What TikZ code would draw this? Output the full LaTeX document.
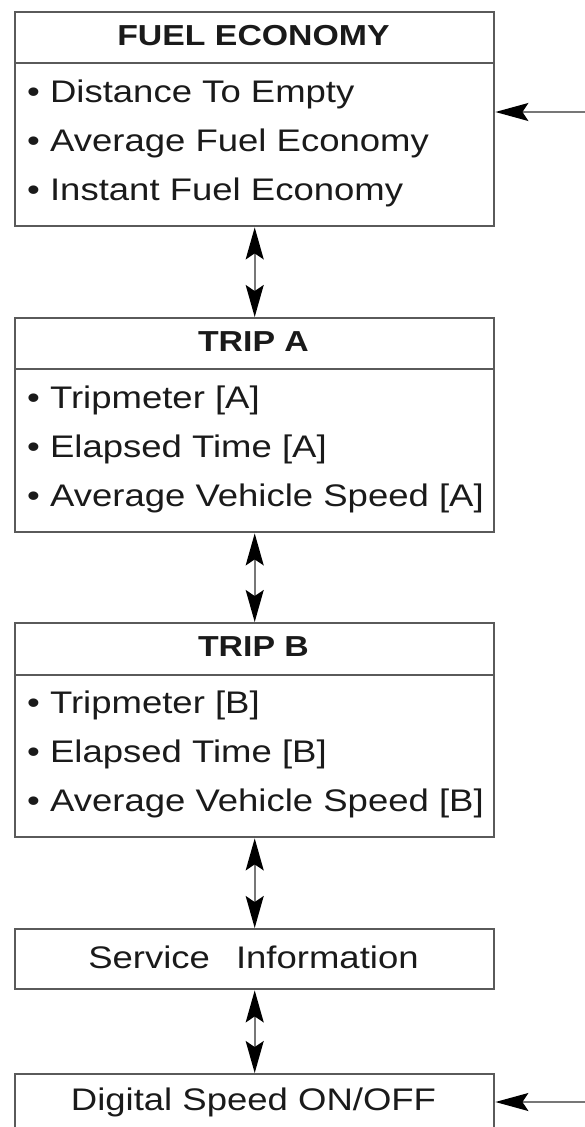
\documentclass[tikz,border=0pt]{standalone}
\usepackage{fontspec}
\setmainfont{Liberation Sans}[FakeStretch=1.17]
\usetikzlibrary{arrows.meta}
\definecolor{boxgray}{HTML}{5A5A5A}
\definecolor{textblack}{HTML}{1A1A1A}
\definecolor{shaftgray}{HTML}{777777}
\begin{document}
\begin{tikzpicture}[x=1pt,y=-1pt,
  box/.style={draw=boxgray, line width=2.4pt, inner sep=0pt, anchor=north west, minimum width=479pt},
  divider/.style={draw=boxgray, line width=2.2pt},
  txt/.style={anchor=base west, inner sep=0pt, text=textblack, font=\fontsize{31.2}{37}\selectfont},
  ctxt/.style={anchor=base, inner sep=0pt, text=textblack, font=\fontsize{31.2}{37}\selectfont},
  hdr/.style={anchor=base, inner sep=0pt, text=textblack, font=\fontsize{28.9}{35}\selectfont\bfseries},
  link/.style={draw=shaftgray, line width=1.6pt, {Stealth[length=32pt,width=18pt,inset=6pt,color=black]}-{Stealth[length=32pt,width=18pt,inset=6pt,color=black]}},
  inlink/.style={draw=shaftgray, line width=1.6pt, -{Stealth[length=33pt,width=18pt,inset=6pt,color=black]}},
]
\useasboundingbox (0,0) rectangle (585,1127);
\clip (0,0) rectangle (585,1127);

% FUEL ECONOMY
\node[box, minimum height=214pt] (fuel) at (14,11) {};
\draw[divider] (14,63) -- (493,63);
\node[hdr] (fuelh) at (253.5,45) {FUEL ECONOMY};
\node[txt] (fuel1) at (27,102.5) {• Distance To Empty};
\node[txt] (fuel2) at (27,151.5) {• Average Fuel Economy};
\node[txt] (fuel3) at (27,200.5) {• Instant Fuel Economy};

% TRIP A
\node[box, minimum height=214pt] (tripa) at (14,317) {};
\draw[divider] (14,369) -- (493,369);
\node[hdr] (tripah) at (253.5,351) {TRIP A};
\node[txt] (tripa1) at (27,408.5) {• Tripmeter [A]};
\node[txt] (tripa2) at (27,457.5) {• Elapsed Time [A]};
\node[txt] (tripa3) at (27,506.5) {• Average Vehicle Speed [A]};

% TRIP B
\node[box, minimum height=214pt] (tripb) at (14,622) {};
\draw[divider] (14,675) -- (493,675);
\node[hdr] (tripbh) at (253.5,656) {TRIP B};
\node[txt] (tripb1) at (27,713.5) {• Tripmeter [B]};
\node[txt] (tripb2) at (27,762.5) {• Elapsed Time [B]};
\node[txt] (tripb3) at (27,811.5) {• Average Vehicle Speed [B]};

% Service Information
\node[box, minimum height=60pt] (serv) at (14,928) {};
\node[ctxt] (servt) at (253.5,968) {Service\hspace{26pt}Information};

% Digital Speed
\node[box, minimum height=70pt] (dig) at (14,1073) {};
\node[ctxt] (digt) at (253.5,1110) {Digital Speed ON/OFF};

% connectors
\draw[link] (fuel.south) -- (tripa.north);
\draw[link] (tripa.south) -- (tripb.north);
\draw[link] (tripb.south) -- (serv.north);
\draw[link] (serv.south) -- (dig.north);

\coordinate (inF) at (585,112);
\coordinate (inD) at (585,1102);
\draw[inlink] (inF) -- (fuel.east |- inF);
\draw[inlink] (inD) -- (dig.east |- inD);
\end{tikzpicture}
\end{document}
